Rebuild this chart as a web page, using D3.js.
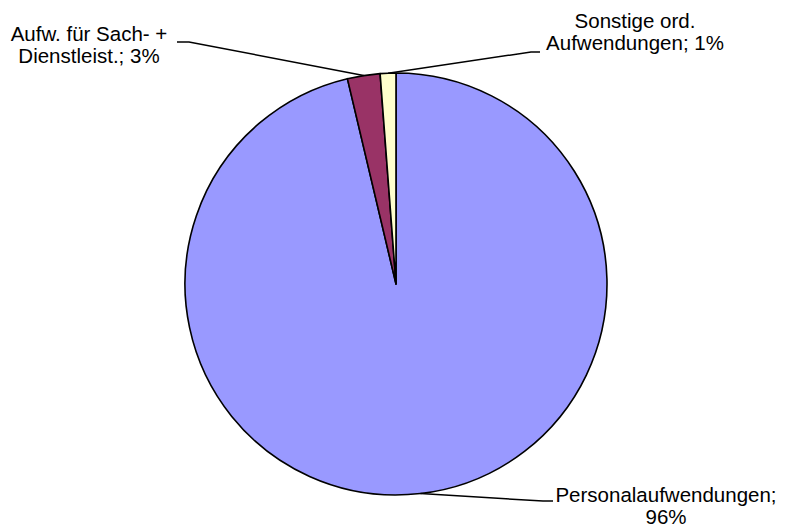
<!DOCTYPE html>
<html>
<head>
<meta charset="utf-8">
<script src="https://cdn.jsdelivr.net/npm/d3@7"></script>
<style>
  body { margin: 0; background: #fff; }
  text { font-family: "Liberation Sans", Arial, sans-serif; font-size: 20.5px; fill: #000; }
</style>
</head>
<body>
<div id="chart"></div>
<script>
// Data
const categories = ['Personalaufwendungen', 'Aufw. für Sach- + Dienstleist.', 'Sonstige ord. Aufwendungen'];
const values = [96.3, 2.5, 1.2];
const labelLines = [
  ['Personalaufwendungen;', '96%'],
  ['Aufw. für Sach- +', 'Dienstleist.; 3%'],
  ['Sonstige ord.', 'Aufwendungen; 1%']
];
const colors = ['#9999FF', '#993366', '#FFFFCC'];

// Layout
const width = 790;
const height = 527;
const cx = 396, cy = 284, radius = 211;
const lineGap = 22;

// where each label sits (text centre x, first baseline y) and where its leader ends
const labelPos = [
  { x: 666, y: 502, lx: 543, ly: 501, hx: 553 },
  { x: 89, y: 41, lx: 189, ly: 42, hx: 177 },
  { x: 635, y: 28, lx: 531, ly: 52, hx: 540 }
];

const svg = d3.select('#chart')
  .append('svg')
  .attr('width', width)
  .attr('height', height);

const pie = d3.pie().sort(null).value(d => d)(values);

const arc = d3.arc().innerRadius(0).outerRadius(radius);

const g = svg.append('g')
  .attr('transform', `translate(${cx},${cy})`);

g.selectAll('path')
  .data(pie)
  .enter().append('path')
  .attr('d', arc)
  .attr('fill', (d, i) => colors[i])
  .attr('stroke', '#000')
  .attr('stroke-width', 1.6)
  .attr('stroke-linejoin', 'round');

// Leader lines
pie.forEach((d, i) => {
  const a = (d.startAngle + d.endAngle) / 2;
  const px = cx + radius * Math.sin(a);
  const py = cy - radius * Math.cos(a);
  const p = labelPos[i];
  svg.append('path')
    .attr('d', `M${px},${py}L${p.lx},${p.ly}L${p.hx},${p.ly}`)
    .attr('fill', 'none')
    .attr('stroke', '#000')
    .attr('stroke-width', 1.5);
});

// Labels
labelLines.forEach((lines, i) => {
  const p = labelPos[i];
  const t = svg.append('text')
    .attr('text-anchor', 'middle');
  lines.forEach((line, j) => {
    t.append('tspan')
      .attr('x', p.x)
      .attr('y', p.y + j * lineGap)
      .text(line);
  });
});
</script>
</body>
</html>
